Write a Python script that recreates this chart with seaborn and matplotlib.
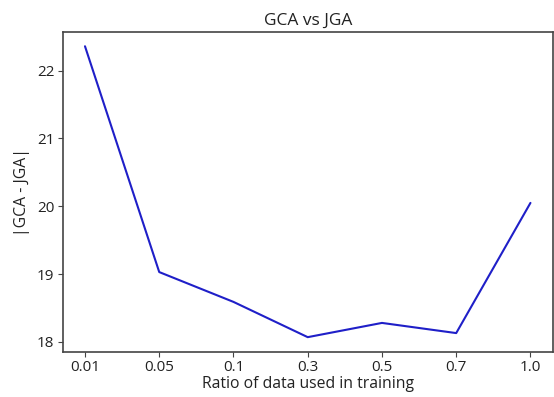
import pandas as pd
import seaborn as sns
import matplotlib.pyplot as plt

# data
ratios = ["0.01", "0.05", "0.1", "0.3", "0.5", "0.7", "1.0"]
gap = [22.36, 19.03, 18.59, 18.07, 18.28, 18.13, 20.05]

df = pd.DataFrame({"ratio": ratios, "gap": gap})

sns.set_style("ticks")
plt.rcParams['font.family'] = ['Open Sans', 'DejaVu Sans']
plt.rcParams['axes.edgecolor'] = '#444444'
plt.rcParams['xtick.color'] = '#444444'
plt.rcParams['ytick.color'] = '#444444'

fig = plt.figure(figsize=(5.54, 3.97), dpi=100)
ax = fig.add_axes([0.1132, 0.1141, 0.8845, 0.806])

sns.lineplot(data=df, x="ratio", y="gap", sort=False, color="#1f1fc8",
             linewidth=1.5, ax=ax)

ax.set_xlim(-0.3, 6.3)
ax.set_title("GCA vs JGA", fontsize=12.5, color="#222222", pad=5)
ax.set_xlabel("Ratio of data used in training", fontsize=11.3, color="#222222", labelpad=1)
ax.set_ylabel("|GCA - JGA|", fontsize=11.3, color="#222222", labelpad=5)
ax.tick_params(labelsize=11, labelcolor="#222222", pad=2.5)
for s in ax.spines.values():
    s.set_visible(True)
    s.set_linewidth(1.2)

fig.savefig("out.png", dpi=100)
